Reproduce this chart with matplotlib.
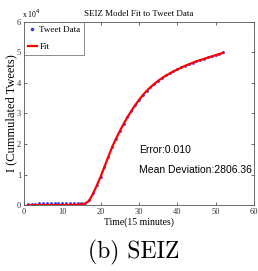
import matplotlib
matplotlib.use('Agg')

import matplotlib.pyplot as plt
import numpy as np

# time in 15 minute steps
time = list(range(1, 53))

# cumulated tweets (x 10^4)
tweets = [0.04, 0.04, 0.04, 0.05, 0.05, 0.05, 0.05, 0.05, 0.05, 0.05,
          0.06, 0.06, 0.06, 0.06, 0.07, 0.08, 0.15, 0.38, 0.65, 0.93,
          1.25, 1.58, 1.9, 2.17, 2.42, 2.66, 2.88, 3.08, 3.27, 3.45,
          3.6, 3.74, 3.87, 3.98, 4.08, 4.17, 4.25, 4.32, 4.39, 4.45,
          4.51, 4.57, 4.62, 4.67, 4.72, 4.76, 4.8, 4.84, 4.88, 4.92,
          4.96, 5.02]

fit = [0.0, 0.0, 0.0, 0.0, 0.0, 0.0, 0.0, 0.0, 0.0, 0.0,
       0.0, 0.0, 0.01, 0.01, 0.02, 0.05, 0.14, 0.37, 0.64, 0.93,
       1.25, 1.58, 1.9, 2.17, 2.42, 2.66, 2.88, 3.08, 3.27, 3.44,
       3.6, 3.74, 3.86, 3.97, 4.07, 4.16, 4.24, 4.31, 4.38, 4.44,
       4.5, 4.56, 4.61, 4.66, 4.71, 4.75, 4.79, 4.83, 4.87, 4.91,
       4.95, 4.99]

xticks = [0, 10, 20, 30, 40, 50, 60]
yticks = [0, 1, 2, 3, 4, 5, 6]

serif = 'Liberation Serif'
sans = 'Liberation Sans'

fig = plt.figure(figsize=(2.58, 2.71), dpi=100)
ax = fig.add_axes([0.093, 0.2435, 0.891, 0.6755])

ax.plot(time, tweets, linestyle='none', marker='.', markersize=2,
        color='#3333ff', label='Tweet Data')
ax.plot(time, fit, color='red', linewidth=1.6, label='Fit')

ax.set_xlim(0, 60)
ax.set_ylim(0, 6)
ax.set_xticks(xticks)
ax.set_yticks(yticks)
ax.set_xticklabels([str(t) for t in xticks], fontfamily=serif, fontsize=6)
ax.set_yticklabels([str(t) for t in yticks], fontfamily=serif, fontsize=6)
ax.tick_params(direction='in', length=2, width=0.5, top=True, right=True,
               pad=2, colors='#333333')
for s in ax.spines.values():
    s.set_linewidth(0.6)
    s.set_color('#555555')

ax.set_title('SEIZ Model Fit to Tweet Data', fontfamily=serif, fontsize=6.5, pad=4)
ax.set_xlabel('Time(15 minutes)', fontfamily=serif, fontsize=7, labelpad=1)
ax.set_ylabel('I (Cummulated Tweets)', fontfamily=serif, fontsize=9, labelpad=0)
ax.text(-0.01, 1.01, 'x 10$^4$', transform=ax.transAxes, fontfamily=serif,
        fontsize=5.5, ha='left', va='bottom')

leg = ax.legend(loc='upper left', prop={'family': serif, 'size': 6.5},
                fancybox=False, borderaxespad=0, handlelength=1.0,
                handletextpad=0.3, borderpad=0.4, labelspacing=1.0,
                markerscale=1.5)
leg.get_frame().set_edgecolor('#555555')
leg.get_frame().set_linewidth(0.6)

ax.text(0.5, 0.3, 'Error:0.010', transform=ax.transAxes, fontfamily=sans,
        fontsize=7.5, va='center')
ax.text(0.5, 0.19, 'Mean Deviation:2806.36', transform=ax.transAxes,
        fontfamily=sans, fontsize=7.5, va='center')

fig.text(0.52, 0.07, '(b) SEIZ', fontfamily='cmr10', fontsize=17,
         ha='center', va='center')

plt.savefig('out.png', dpi=100)
plt.close()
